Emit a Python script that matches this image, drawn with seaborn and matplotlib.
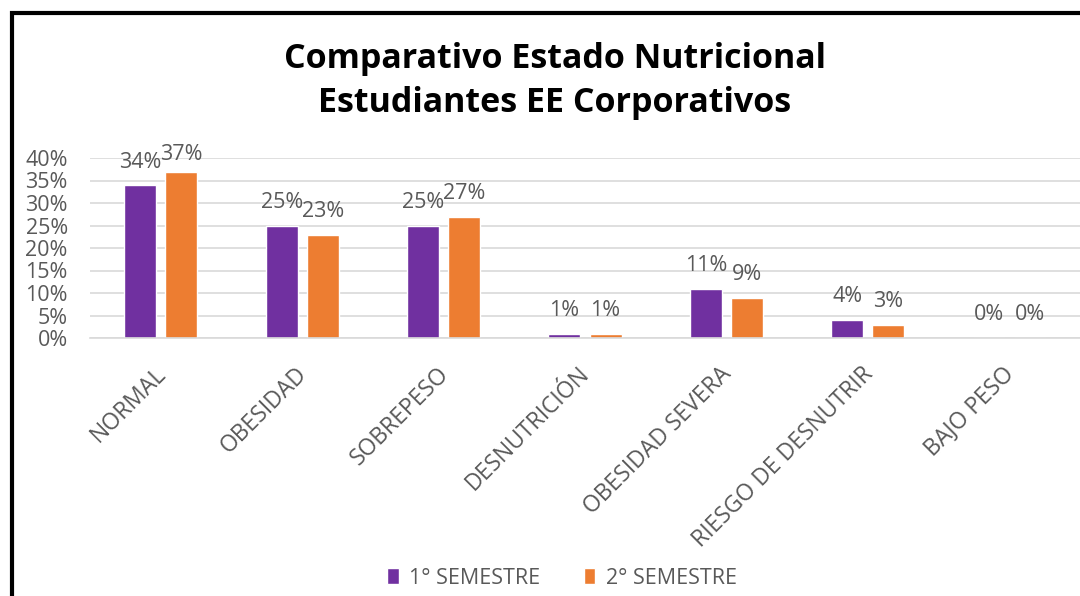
import matplotlib
matplotlib.use("Agg")
import matplotlib.pyplot as plt
import matplotlib.transforms as mtransforms
import seaborn as sns
import pandas as pd
from matplotlib.patches import Rectangle
from matplotlib.ticker import PercentFormatter

categorias = ["NORMAL", "OBESIDAD", "SOBREPESO", "DESNUTRICIÓN",
              "OBESIDAD SEVERA", "RIESGO DE DESNUTRIR", "BAJO PESO"]
semestre_1 = [34, 25, 25, 1, 11, 4, 0]
semestre_2 = [37, 23, 27, 1, 9, 3, 0]
series = ["1° SEMESTRE", "2° SEMESTRE"]
yticks = [0, 5, 10, 15, 20, 25, 30, 35, 40]
titulo = "Comparativo Estado Nutricional\nEstudiantes EE Corporativos"

df = pd.DataFrame({
    "categoria": categorias * 2,
    "valor": semestre_1 + semestre_2,
    "serie": [series[0]] * len(categorias) + [series[1]] * len(categorias),
})

sns.set_style("white")
plt.rcParams["font.family"] = ["Open Sans", "DejaVu Sans"]

fig = plt.figure(figsize=(10.8, 5.96), dpi=100)
ax = fig.add_axes([90 / 1080, 258 / 596, 990 / 1080, 180 / 596])

sns.barplot(data=df, x="categoria", y="valor", hue="serie",
            palette=["#7030A0", "#ED7D31"], width=0.58, gap=0.22,
            ax=ax, legend=True, saturation=1)

ymax = 40
for c in ax.containers:
    for bar, v in zip(c.patches, c.datavalues):
        # Excel keeps labels near the plot top: reduce offset for tall bars
        pad = max(1.0, min(9.0, (ymax - v) * 1.5))
        ax.annotate(f"{v:.0f}%", xy=(bar.get_x() + bar.get_width() / 2, bar.get_height()),
                    xytext=(0, pad), textcoords="offset points",
                    ha="center", va="bottom", fontsize=15.5, color="#595959")

ax.set_ylim(0, ymax)
ax.set_yticks(yticks)
ax.yaxis.set_major_formatter(PercentFormatter(decimals=0))
ax.grid(axis="y", color="#D9D9D9", linewidth=1.2)
ax.set_axisbelow(True)
for s in ["top", "right", "left"]:
    ax.spines[s].set_visible(False)
ax.spines["bottom"].set_color("#D9D9D9")
ax.spines["bottom"].set_linewidth(1.2)
ax.tick_params(axis="both", length=0, labelsize=15.5, colors="#595959")
ax.tick_params(axis="y", pad=16)
ax.set_xlabel("")
ax.set_ylabel("")

# category labels, rotated like the Excel chart
ticks = ax.get_xticks()
ax.set_xticklabels([])
shift = mtransforms.ScaledTranslation(-7 / 100, -24 / 100, fig.dpi_scale_trans)
for pos, cat in zip(ticks, categorias):
    ax.text(pos, 0, cat, transform=ax.get_xaxis_transform() + shift,
            rotation=45, ha="right", va="top", rotation_mode="anchor",
            fontsize=16.5, color="#595959")

leg = ax.get_legend()
handles = leg.legend_handles
leg.remove()
fig.legend(handles, series, loc="center", bbox_to_anchor=(562 / 1080, 1 - 578 / 596),
           ncol=2, frameon=False, fontsize=15.5, labelcolor="#595959",
           handlelength=0.55, handleheight=0.8, columnspacing=2.0, handletextpad=0.5)

fig.text(555 / 1080, 1 - 81 / 596, titulo, ha="center", va="center",
         fontsize=24.5, fontweight="bold", color="#000000", linespacing=1.35)

fig.patches.append(Rectangle((12 / 1080, -0.1), 1.2, (596 - 13) / 596 + 0.1,
                             transform=fig.transFigure, fill=False,
                             edgecolor="black", linewidth=3))

fig.savefig("out.png", dpi=100)
